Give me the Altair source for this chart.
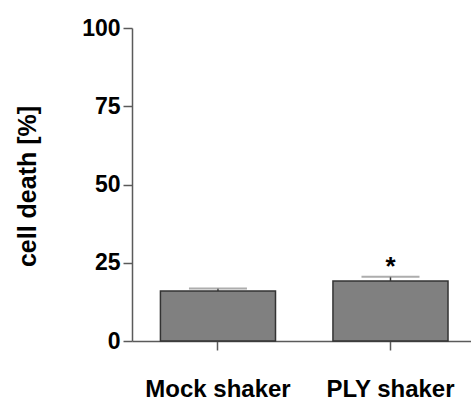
import altair as alt
import pandas as pd

groups = ["Mock shaker", "PLY shaker"]
means = [16.0, 19.2]
sems = [0.8, 1.3]
stars = ["", "*"]
y_ticks = [0, 25, 50, 75, 100]

df = pd.DataFrame({
    "group": groups,
    "mean": means,
    "upper": [m + s for m, s in zip(means, sems)],
    "star": stars,
})

FONT = "Liberation Sans"
AXC = "#5a5a5a"

x = alt.X(
    "group:N", sort=groups,
    scale=alt.Scale(paddingInner=0.333, paddingOuter=0.149, align=0.553),
    axis=alt.Axis(title=None, labelAngle=0, labelFont=FONT, labelFontSize=24,
                  labelFontWeight="bold", labelColor="black", labelPadding=27,
                  tickSize=9, tickColor=AXC, tickWidth=1.5,
                  domainColor=AXC, domainWidth=1.5),
)
y_scale = alt.Scale(domain=[0, 100], nice=False)
y = alt.Y(
    "mean:Q", scale=y_scale,
    axis=alt.Axis(values=y_ticks, title="cell death [%]", grid=False,
                  labelFont=FONT, labelFontSize=23, labelFontWeight="bold",
                  labelColor="black", labelPadding=3,
                  tickSize=9, tickColor=AXC, tickWidth=1.5,
                  domainColor=AXC, domainWidth=1.5,
                  titleFont=FONT, titleFontSize=25, titleFontWeight="bold",
                  titleColor="black", titleX=-105, titleY=158,
                  titleBaseline="middle"),
)

base = alt.Chart(df)

bars = base.mark_bar(color="#808080", stroke="#333333", strokeWidth=1.5).encode(x=x, y=y)
stem = base.mark_rule(color="#333333", strokeWidth=1.5).encode(
    x=alt.X("group:N", sort=groups), y=alt.Y("mean:Q"), y2="upper:Q")
cap = base.mark_tick(orient="horizontal", size=58, thickness=2, color="#8a8a8a").encode(
    x=alt.X("group:N", sort=groups), y=alt.Y("upper:Q"))
star = base.mark_text(font=FONT, fontSize=26, fontWeight="bold", baseline="middle",
                      dy=-10, color="black").encode(
    x=alt.X("group:N", sort=groups), y=alt.Y("upper:Q"), text="star:N")

chart = alt.layer(bars, stem, cap, star).properties(
    width=339, height=313,
    autosize=alt.AutoSizeParams(type="none"),
    padding={"left": 132, "top": 28, "right": 0, "bottom": 60},
    background="white",
).configure_view(stroke=None)

chart.save("out.html", embed_options={"renderer": "svg", "actions": False})
